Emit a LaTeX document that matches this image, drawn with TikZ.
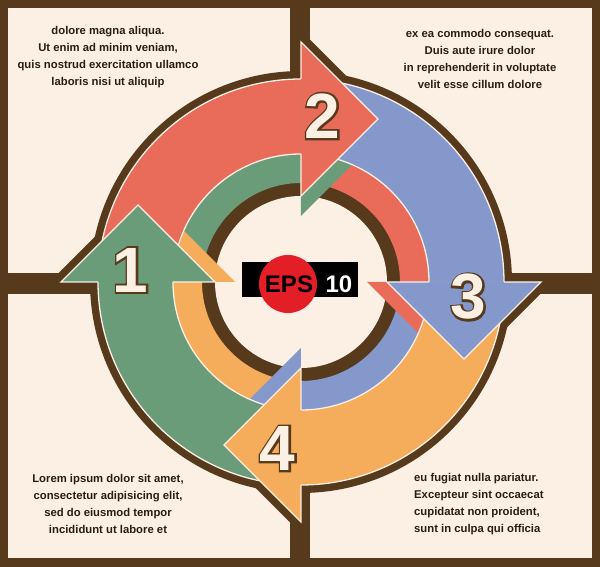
\documentclass[tikz,border=0pt]{standalone}
\usepackage{fontspec}
\setmainfont{Liberation Sans}
\newfontfamily\digfat[FakeBold=6]{Liberation Sans Bold}
\newfontfamily\dignorm{Liberation Sans Bold}
\definecolor{brn}{HTML}{573A1C}
\definecolor{crm}{HTML}{FCEFE3}
\definecolor{cred}{HTML}{E96B59}
\definecolor{cblu}{HTML}{8598CC}
\definecolor{cgrn}{HTML}{6B9C7A}
\definecolor{corg}{HTML}{F5AD5C}
\definecolor{txt}{HTML}{2A1E14}
\definecolor{epsred}{HTML}{E41E26}
\newcommand\outdig[3]{%
  \node[inner sep=0pt,font=\digfat\fontsize{64}{64}\selectfont,text=brn] (#1o) at (#2) {#3};
  \node[inner sep=0pt,font=\dignorm\fontsize{64}{64}\selectfont,text=crm] (#1) at (#2) {#3};}
\begin{document}
\begin{tikzpicture}[x=1pt,y=1pt,
  txtblk/.style={align=center,text=txt,inner sep=0pt,font=\fontsize{11.3}{17}\selectfont\bfseries},
  cline/.style={draw=crm,line width=1.3pt,line join=miter}]
\useasboundingbox (-301,-285) rectangle (299,282);
% frame and panels
\fill[brn] (-301,-285) rectangle (299,282);
\fill[crm] (-293,9) rectangle (-11,274);
\fill[crm] (9,9) rectangle (291,274);
\fill[crm] (-293,-276) rectangle (-11,-12);
\fill[crm] (9,-276) rectangle (291,-12);
% brown silhouette
\fill[brn] (0,0) circle (211);
\foreach \rot in {0,-90,180,90}{
  \begin{scope}[rotate=\rot]
    \filldraw[brn,line width=16pt,line join=miter] (0,86) -- (0,240) -- (77,163) -- cycle;
  \end{scope}}
% inner brown ring and centre
\fill[brn] (0,0) circle (99);
\fill[crm] (0,0) circle (86);
% inner bands
\foreach \rot/\col in {0/cred,-90/cblu,180/corg,90/cgrn}{
  \begin{scope}[rotate=\rot]
    \fill[\col] (90:128) arc[start angle=90,end angle=0,radius=128] -- (0:99) arc[start angle=0,end angle=90,radius=99] -- cycle;
  \end{scope}}
% shadows of the inner bands under the next head
\foreach \rot/\col in {0/cgrn,-90/cred,180/cblu,90/corg}{
  \begin{scope}[rotate=\rot]
    \clip (0,0) circle (128);
    \fill[\col] (0,66) -- (0,220) -- (77,143) -- cycle;
  \end{scope}}
% outer bands
\foreach \rot/\col in {0/cred,-90/cblu,180/corg,90/cgrn}{
  \begin{scope}[rotate=\rot]
    \fill[\col] (180:203) arc[start angle=180,end angle=90,radius=203] -- (90:128) arc[start angle=90,end angle=180,radius=128] -- cycle;
    \draw[cline] (180:203) arc[start angle=180,end angle=90,radius=203];
    \draw[cline] (180:128) arc[start angle=180,end angle=90,radius=128];
  \end{scope}}
% arrow heads
\foreach \rot/\col in {0/cred,-90/cblu,180/corg,90/cgrn}{
  \begin{scope}[rotate=\rot]
    \fill[\col] (0,86) -- (0,240) -- (77,163) -- cycle;
    \draw[cline] (0,203) -- (0,240) -- (77,163) -- (0,86) -- (0,128);
  \end{scope}}
% numbers
\outdig{n1}{-170.5,12}{1}
\outdig{n2}{21.5,166}{2}
\outdig{n3}{167.5,-15}{3}
\outdig{n4}{-23.5,-166.5}{4}
% EPS logo
\fill[black] (-59,-15) rectangle (57,20);
\fill[epsred] (-13,-2) circle (29);
\node[inner sep=0pt,font=\fontsize{24}{24}\selectfont\bfseries,text=black] (eps) at (-12,-2.5) {EPS};
\node[inner sep=0pt,font=\fontsize{24}{24}\selectfont\bfseries,text=white] (ten) at (38,-2) {10};
% texts
\node[txtblk] (tl) at (-193,224.5) {dolore magna aliqua.\\Ut enim ad minim veniam,\\quis nostrud exercitation ullamco\\laboris nisi ut aliquip};
\node[txtblk] (tr) at (179,223.5) {ex ea commodo consequat.\\Duis aute irure dolor\\in reprehenderit in voluptate\\velit esse cillum dolore};
\node[txtblk] (bl) at (-193,-221.5) {Lorem ipsum dolor sit amet,\\consectetur adipisicing elit,\\sed do eiusmod tempor\\incididunt ut labore et};
\node[txtblk,align=left,anchor=west] (br) at (113,-222) {eu fugiat nulla pariatur.\\Excepteur sint occaecat\\cupidatat non proident,\\sunt in culpa qui officia};
\end{tikzpicture}
\end{document}
